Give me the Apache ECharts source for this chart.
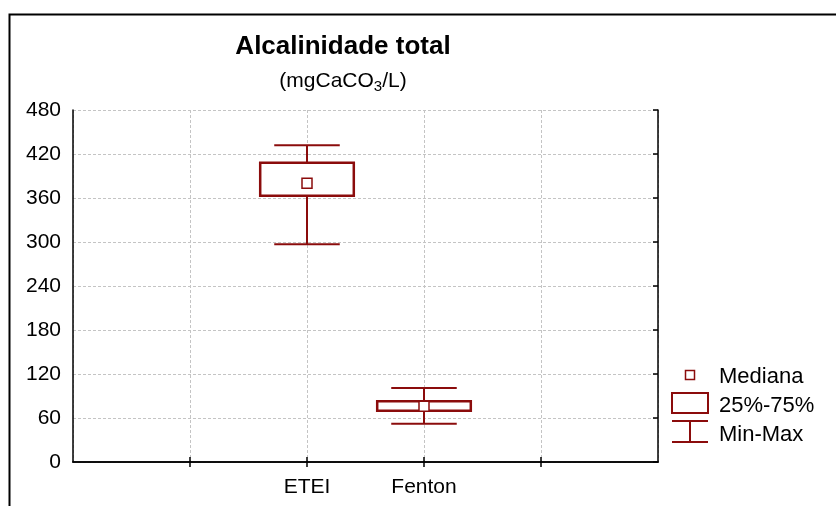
<!DOCTYPE html>
<html>
<head>
<meta charset="utf-8">
<script src="https://cdn.jsdelivr.net/npm/echarts@6/dist/echarts.min.js"></script>
<style>
  html, body { margin: 0; padding: 0; background: #ffffff; }
  #chart { width: 836px; height: 506px; }
</style>
</head>
<body>
<div id="chart"></div>
<script>
// Category slots along the x axis (ticks at every slot, groups sit on slots 2 and 3)
const slots = ['', '', 'ETEI', 'Fenton', '', ''];
const groups = ['ETEI', 'Fenton'];

// Box-plot statistics, mgCaCO3/L
const minValues = [297, 52];
const q1Values = [363, 70];
const medianValues = [380, 76];
const q3Values = [408, 83];
const maxValues = [432, 101];

// Value axis ticks
const yMin = 0;
const yMax = 480;
const yStep = 60;

const RED = '#8b0c0c';
const FONT = 'Liberation Sans, Arial, sans-serif';
const GRID_LINE = { type: [3, 2], color: '#c4c4c4', width: 1 };

const boxData = groups.map((g, i) => [slots.indexOf(g), q1Values[i], q3Values[i]]);
const whiskerData = groups.map((g, i) => [slots.indexOf(g), minValues[i], q1Values[i], q3Values[i], maxValues[i]]);
const medianData = groups.map((g, i) => [slots.indexOf(g), medianValues[i]]);

const chart = echarts.init(document.getElementById('chart'), null, { renderer: 'canvas' });

chart.setOption({
  animation: false,
  backgroundColor: '#ffffff',
  textStyle: { fontFamily: FONT },
  grid: { left: 73, right: 178, top: 110, bottom: 44, containLabel: false },
  xAxis: [
    {
      type: 'category',
      data: slots,
      boundaryGap: false,
      position: 'bottom',
      axisLine: { lineStyle: { color: '#000', width: 1.5 } },
      axisTick: {
        show: true, inside: true, length: 5,
        interval: (idx) => idx > 0 && idx < slots.length - 1,
        lineStyle: { color: '#000', width: 1.5 }
      },
      axisLabel: { interval: 0, color: '#000', fontSize: 21, fontFamily: FONT, margin: 15 },
      splitLine: { show: true, interval: 0, lineStyle: GRID_LINE }
    },
    {
      type: 'category',
      data: slots,
      boundaryGap: false,
      position: 'top',
      axisLine: { lineStyle: { color: '#000', width: 1.5 } },
      axisTick: {
        show: true, inside: true, length: 5,
        interval: (idx) => idx > 0 && idx < slots.length - 1,
        lineStyle: { color: '#000', width: 1.5 }
      },
      axisLabel: { show: false },
      splitLine: { show: false }
    }
  ],
  yAxis: [
    {
      type: 'value',
      min: yMin, max: yMax, interval: yStep,
      position: 'left',
      axisLine: { show: true, lineStyle: { color: '#000', width: 1.5 } },
      axisTick: { show: false },
      axisLabel: { color: '#000', fontSize: 21, fontFamily: FONT, margin: 12 },
      splitLine: { show: true, lineStyle: GRID_LINE }
    },
    {
      type: 'value',
      min: yMin, max: yMax, interval: yStep,
      position: 'right',
      axisLine: { show: true, lineStyle: { color: '#000', width: 1.5 } },
      axisTick: { show: true, inside: true, length: 5, lineStyle: { color: '#000', width: 1.5 } },
      axisLabel: { show: false },
      splitLine: { show: false }
    }
  ],
  series: [
    {
      // Min-Max whiskers with end caps
      name: 'Min-Max',
      type: 'custom',
      xAxisIndex: 0, yAxisIndex: 0,
      z: 2,
      encode: { x: 0, y: [1, 2, 3, 4] },
      data: whiskerData,
      renderItem(params, api) {
        const x = api.value(0);
        const slotW = api.size([1, 0])[0];
        const cap = slotW * 0.28;
        const pMin = api.coord([x, api.value(1)]);
        const pQ1 = api.coord([x, api.value(2)]);
        const pQ3 = api.coord([x, api.value(3)]);
        const pMax = api.coord([x, api.value(4)]);
        const style = { stroke: RED, lineWidth: 2 };
        return {
          type: 'group',
          children: [
            { type: 'line', shape: { x1: pMin[0], y1: pMin[1], x2: pQ1[0], y2: pQ1[1] }, style },
            { type: 'line', shape: { x1: pQ3[0], y1: pQ3[1], x2: pMax[0], y2: pMax[1] }, style },
            { type: 'line', shape: { x1: pMin[0] - cap, y1: pMin[1], x2: pMin[0] + cap, y2: pMin[1] }, style },
            { type: 'line', shape: { x1: pMax[0] - cap, y1: pMax[1], x2: pMax[0] + cap, y2: pMax[1] }, style }
          ]
        };
      }
    },
    {
      // 25%-75% boxes
      name: '25%-75%',
      type: 'custom',
      xAxisIndex: 0, yAxisIndex: 0,
      z: 3,
      encode: { x: 0, y: [1, 2] },
      data: boxData,
      renderItem(params, api) {
        const x = api.value(0);
        const slotW = api.size([1, 0])[0];
        const half = slotW * 0.4;
        const pQ1 = api.coord([x, api.value(1)]);
        const pQ3 = api.coord([x, api.value(2)]);
        return {
          type: 'rect',
          shape: { x: pQ1[0] - half, y: pQ3[1], width: half * 2, height: pQ1[1] - pQ3[1] },
          style: { fill: '#ffffff', stroke: RED, lineWidth: 2.5 }
        };
      }
    },
    {
      // Medians
      name: 'Mediana',
      type: 'scatter',
      xAxisIndex: 0, yAxisIndex: 0,
      z: 4,
      symbol: 'rect',
      symbolSize: 10,
      itemStyle: { color: '#ffffff', borderColor: RED, borderWidth: 1.5, opacity: 1 },
      data: medianData
    }
  ],
  graphic: [
    // Outer frame
    { type: 'rect', left: 7, top: 12, shape: { width: 900, height: 600 }, style: { fill: null, stroke: '#000', lineWidth: 2 }, silent: true },
    // Title
    { type: 'text', x: 343, y: 47, style: { text: 'Alcalinidade total', font: 'bold 26px ' + FONT, fill: '#000', textAlign: 'center', textVerticalAlign: 'middle' } },
    {
      type: 'text', x: 343, y: 81,
      style: {
        text: '{n|(mgCaCO}{s|3}{n|/L)}',
        textAlign: 'center', textVerticalAlign: 'middle',
        rich: {
          n: { fontSize: 21, fontFamily: FONT, fill: '#000', color: '#000' },
          s: { fontSize: 15, fontFamily: FONT, fill: '#000', color: '#000', padding: [12, 0, 0, 0] }
        }
      }
    },
    // Legend: median marker
    { type: 'rect', shape: { x: 685.5, y: 370.5, width: 9, height: 9 }, style: { fill: '#fff', stroke: RED, lineWidth: 1.5 } },
    { type: 'text', x: 719, y: 377, style: { text: 'Mediana', font: '22px ' + FONT, fill: '#000', textVerticalAlign: 'middle' } },
    // Legend: quartile box
    { type: 'rect', shape: { x: 672, y: 393, width: 36, height: 20 }, style: { fill: '#fff', stroke: RED, lineWidth: 2 } },
    { type: 'text', x: 719, y: 406, style: { text: '25%-75%', font: '22px ' + FONT, fill: '#000', textVerticalAlign: 'middle' } },
    // Legend: whisker
    { type: 'line', shape: { x1: 672, y1: 421, x2: 708, y2: 421 }, style: { stroke: RED, lineWidth: 2 } },
    { type: 'line', shape: { x1: 690, y1: 421, x2: 690, y2: 442 }, style: { stroke: RED, lineWidth: 2 } },
    { type: 'line', shape: { x1: 672, y1: 442, x2: 708, y2: 442 }, style: { stroke: RED, lineWidth: 2 } },
    { type: 'text', x: 719, y: 435, style: { text: 'Min-Max', font: '22px ' + FONT, fill: '#000', textVerticalAlign: 'middle' } }
  ]
});
</script>
</body>
</html>
